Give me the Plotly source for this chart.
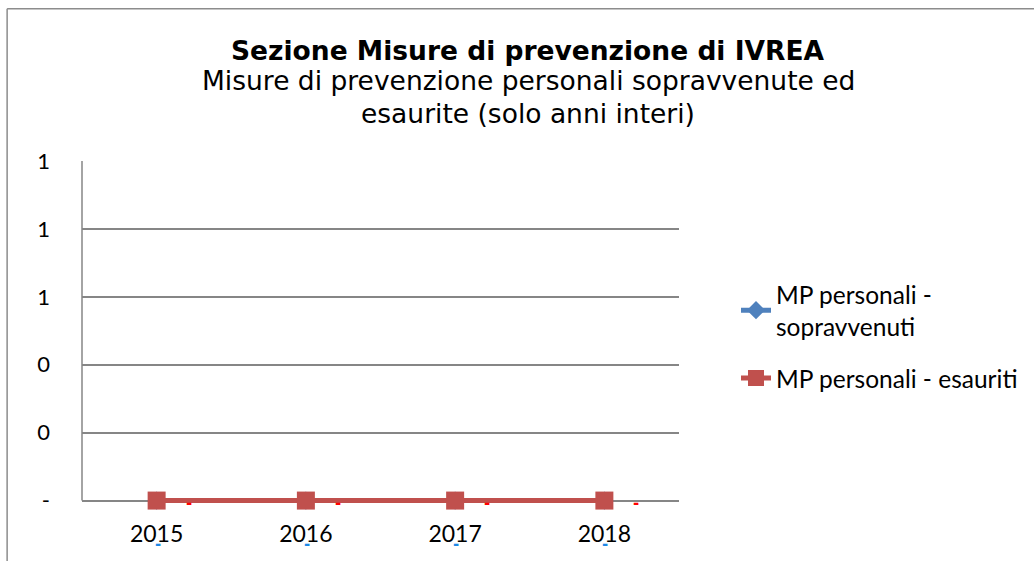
import plotly.graph_objects as go

years = ["2015", "2016", "2017", "2018"]
sopravvenuti = [0, 0, 0, 0]
esauriti = [0, 0, 0, 0]
y_tickvals = [0, 0.2, 0.4, 0.6, 0.8, 1.0]
y_ticktext = ["-", "0", "0", "1", "1", "1"]
label_text = "<b>-</b>"

title_main = "Sezione Misure di prevenzione di IVREA"
title_sub_1 = "Misure di prevenzione personali sopravvenute ed"
title_sub_2 = "esaurite (solo anni interi)"

BLUE = "#4F81BD"
RED = "#C0504D"
GRID = "#868686"

Y_MIN = -0.016  # small pad below zero so the thick line is not clipped

fig = go.Figure()
fig.add_trace(go.Scatter(
    x=years, y=sopravvenuti, mode="lines+markers",
    name="MP personali -<br>sopravvenuti", legendgroup="a",
    line=dict(color=BLUE, width=5),
    marker=dict(symbol="diamond", size=14, color=BLUE),
    cliponaxis=False,
))
fig.add_trace(go.Scatter(
    x=years, y=esauriti, mode="lines+markers",
    name="MP personali - esauriti", legendgroup="b",
    line=dict(color=RED, width=5),
    marker=dict(symbol="square", size=18, color=RED),
    cliponaxis=False,
))

annotations = []
for i, v in enumerate(esauriti):
    annotations.append(dict(x=i, y=v, xref="x", yref="y", text=label_text, showarrow=False,
                            xshift=32, yshift=-2,
                            font=dict(color="#FF0000", size=15, family="DejaVu Sans")))
for i, v in enumerate(sopravvenuti):
    annotations.append(dict(x=i, y=v, xref="x", yref="y", text=label_text, showarrow=False,
                            xshift=1, yshift=-43,
                            font=dict(color="#1E88E5", size=15, family="DejaVu Sans")))

H = 340.0
annotations.append(dict(
    xref="paper", yref="paper", x=(529 - 82) / 598, y=(501 - 52) / H,
    text="<b>" + title_main + "</b>", showarrow=False,
    font=dict(family="DejaVu Sans", size=26.5, color="black"),
    xanchor="center", yanchor="middle"))
annotations.append(dict(
    xref="paper", yref="paper", x=(529 - 82) / 598, y=(501 - 82) / H,
    text=title_sub_1, showarrow=False,
    font=dict(family="DejaVu Sans", size=26.5, color="black"),
    xanchor="center", yanchor="middle"))
annotations.append(dict(
    xref="paper", yref="paper", x=(529 - 82) / 598, y=(501 - 114) / H,
    text=title_sub_2, showarrow=False,
    font=dict(family="DejaVu Sans", size=26.5, color="black"),
    xanchor="center", yanchor="middle"))

shapes = [
    dict(type="line", xref="paper", yref="paper",
         x0=(7 - 82) / 598, x1=(1040 - 82) / 598,
         y0=(501 - 11) / H, y1=(501 - 11) / H,
         line=dict(color="#8C8C8C", width=1.5)),
    dict(type="line", xref="paper", yref="paper",
         x0=(7 - 82) / 598, x1=(7 - 82) / 598,
         y0=(501 - 11) / H, y1=(501 - 580) / H,
         line=dict(color="#8C8C8C", width=1.5)),
    # y axis line from 0 to top
    dict(type="line", xref="paper", yref="y", x0=0, x1=0, y0=0, y1=1.0,
         line=dict(color=GRID, width=1.5), layer="below"),
]

plot_h = H * (1.0 - Y_MIN)
plot_bottom = 161 + plot_h
fig.update_layout(
    width=1034, height=561,
    margin=dict(l=82, r=354, t=161, b=561 - plot_bottom),
    paper_bgcolor="white", plot_bgcolor="white",
    showlegend=True,
    legend=dict(
        x=(736 - 82) / 598, y=(plot_bottom - 272) / plot_h, xanchor="left", yanchor="top",
        font=dict(family="Lato", size=24.5, color="black"),
        tracegroupgap=17, bgcolor="rgba(0,0,0,0)",
    ),
    annotations=annotations,
    shapes=shapes,
    font=dict(family="DejaVu Sans", color="black"),
)

fig.update_xaxes(
    type="category", range=[-0.5, 3.5],
    showgrid=False, showline=False,
    ticks="", tickfont=dict(family="Lato", size=23, color="black"),
    ticklabelstandoff=12, zeroline=False,
)
fig.update_yaxes(
    range=[Y_MIN, 1.0], tickvals=y_tickvals, ticktext=y_ticktext,
    showgrid=True, gridcolor=GRID, gridwidth=1.5,
    showline=False,
    ticks="", tickfont=dict(family="Lato", size=22, color="black"),
    ticklabelstandoff=31, zeroline=False,
)

fig.write_html("out.html", post_script="document.body.style.margin='0';",
               config={"displayModeBar": False})
